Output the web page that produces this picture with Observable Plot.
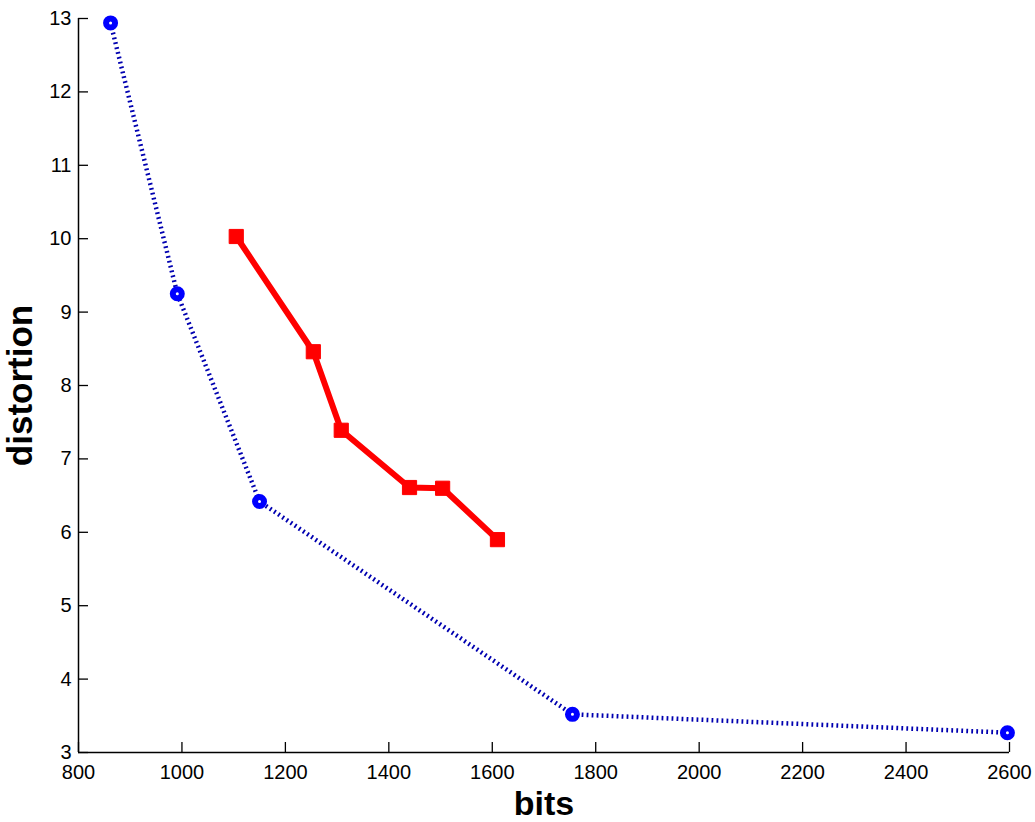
<!DOCTYPE html>
<html>
<head>
<meta charset="utf-8">
<script src="https://cdn.jsdelivr.net/npm/d3@7"></script>
<script src="https://cdn.jsdelivr.net/npm/@observablehq/plot@0.6"></script>
<style>
  html, body { margin: 0; padding: 0; background: #fff; }
  #chart { width: 1035px; height: 822px; }
</style>
</head>
<body>
<div id="chart"></div>
<script>
const blueBits = [862, 991, 1150, 1755, 2596];
const blueDistortion = [12.94, 9.25, 6.42, 3.52, 3.27];
const redBits = [1105, 1254, 1308, 1440, 1504, 1610];
const redDistortion = [10.03, 8.46, 7.39, 6.61, 6.60, 5.90];
const xTicks = [800, 1000, 1200, 1400, 1600, 1800, 2000, 2200, 2400, 2600];
const yTicks = [3, 4, 5, 6, 7, 8, 9, 10, 11, 12, 13];

const blue = blueBits.map((b, i) => ({bits: b, distortion: blueDistortion[i]}));
const red = redBits.map((b, i) => ({bits: b, distortion: redDistortion[i]}));

const font = "'Liberation Sans', Arial, Helvetica, sans-serif";
const W = 1035, H = 822, mL = 78, mR = 26, mT = 18, mB = 70;
const frameW = W - mL - mR, frameH = H - mT - mB, tickLen = 10;

const chart = Plot.plot({
  width: W,
  height: H,
  marginLeft: mL,
  marginRight: mR,
  marginTop: mT,
  marginBottom: mB,
  style: {fontFamily: font, background: "#fff", color: "#000"},
  x: {domain: [800, 2600], ticks: xTicks},
  y: {domain: [3, 13], ticks: yTicks},
  marks: [
    Plot.axisX({ticks: xTicks, tickSize: 0, tickPadding: 12, fontSize: 20, tickFormat: "d", label: null}),
    Plot.axisY({ticks: yTicks, tickSize: 0, tickPadding: 7, fontSize: 20, tickFormat: "d", label: null}),
    Plot.tickX(xTicks, {x: d => d, insetTop: frameH - tickLen, stroke: "#000", strokeWidth: 1.3}),
    Plot.tickY(yTicks, {y: d => d, insetRight: frameW - tickLen, stroke: "#000", strokeWidth: 1.3}),
    Plot.ruleY([3], {stroke: "#000", strokeWidth: 1.5}),
    Plot.ruleX([800], {stroke: "#000", strokeWidth: 1.5}),
    Plot.line(blue, {x: "bits", y: "distortion", stroke: "#0000b0", strokeWidth: 4.5, strokeLinecap: "butt", strokeDasharray: "1.8,3.2"}),
    Plot.dot(blue, {x: "bits", y: "distortion", r: 4.5, stroke: "#0000ff", strokeWidth: 6, fill: "#fff"}),
    Plot.line(red, {x: "bits", y: "distortion", stroke: "#ff0000", strokeWidth: 6}),
    Plot.dot(red, {x: "bits", y: "distortion", symbol: "square", r: 8, fill: "#ff0000", stroke: "#ff0000", strokeWidth: 1}),
    Plot.text(["bits"], {frameAnchor: "bottom", dy: 62, fontSize: 34, fontWeight: "bold", fill: "#000"}),
    Plot.text(["distortion"], {frameAnchor: "left", textAnchor: "middle", dx: -58, rotate: -90, fontSize: 35, fontWeight: "bold", fill: "#000"})
  ]
});
document.getElementById("chart").appendChild(chart);
</script>
</body>
</html>
